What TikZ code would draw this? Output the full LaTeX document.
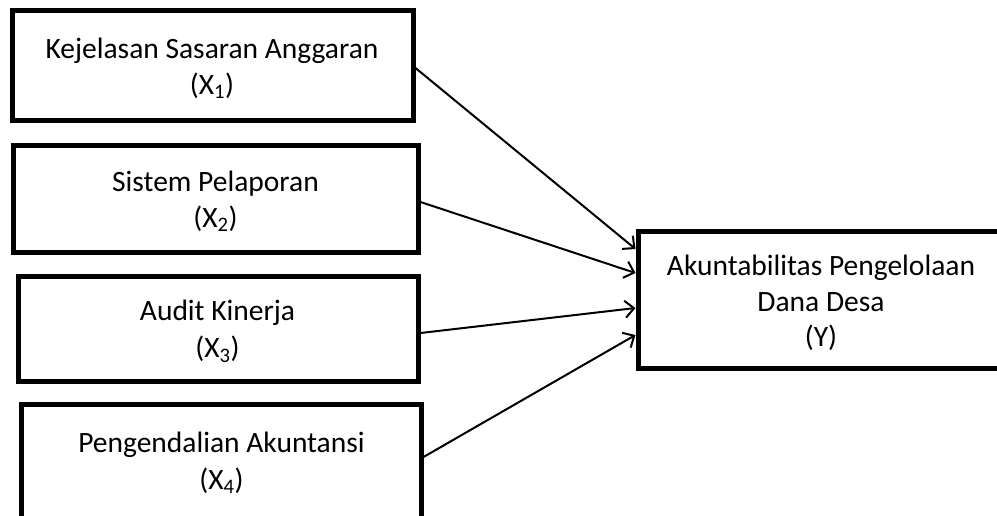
\documentclass[tikz,border=0pt]{standalone}
\usepackage{fontspec}
\setmainfont{Carlito}
\usetikzlibrary{arrows.meta}
\begin{document}
\begin{tikzpicture}[x=1pt,y=-1pt,
  box/.style={draw, line width=5pt, inner sep=0pt},
  lbl/.style={font=\fontsize{29.5}{36}\selectfont, inner sep=0pt, anchor=base},
  conn/.style={line width=2pt, -{Straight Barb[length=9pt,width=17pt,line width=2pt]}}]
\useasboundingbox (0,0) rectangle (997,515);
\clip (0,0) rectangle (997,515);
\fill[white] (0,0) rectangle (997,515);
% boxes
\node[box, minimum width=401pt, minimum height=109.5pt] (b1) at (212.5,65.25) {};
\node[box, minimum width=405pt, minimum height=107pt] (b2) at (215.5,198.5) {};
\node[box, minimum width=400pt, minimum height=105pt] (b3) at (218,328.5) {};
\node[box, minimum width=400pt, minimum height=140pt] (b4) at (221,474) {};
\node[box, minimum width=366pt, minimum height=137pt] (y) at (821,299.5) {};
% texts
\node[lbl] (t1a) at (212,58.5) {Kejelasan Sasaran Anggaran};
\node[lbl] (t1b) at (212,94) {(X\textsubscript{1})};
\node[lbl] (t2a) at (215.5,191.7) {Sistem Pelaporan};
\node[lbl] (t2b) at (215.5,227) {(X\textsubscript{2})};
\node[lbl] (t3a) at (217.5,320) {Audit Kinerja};
\node[lbl] (t3b) at (217.5,357.5) {(X\textsubscript{3})};
\node[lbl] (t4a) at (221.5,452.3) {Pengendalian Akuntansi};
\node[lbl] (t4b) at (221.5,489) {(X\textsubscript{4})};
\node[lbl] (tya) at (821,275) {Akuntabilitas Pengelolaan};
\node[lbl] (tyb) at (821,311.5) {Dana Desa};
\node[lbl] (tyc) at (821,346) {(Y)};
% connectors
\draw[conn] ([yshift=-2.75pt]b1.east) -- ([yshift=50.5pt]y.west);
\draw[conn] ([yshift=-3.5pt]b2.east) -- ([yshift=26.5pt]y.west);
\draw[conn] ([yshift=-4.5pt]b3.east) -- ([yshift=-8.5pt]y.west);
\draw[conn] ([yshift=17pt]b4.east) -- ([yshift=-35.5pt]y.west);
\end{tikzpicture}
\end{document}
